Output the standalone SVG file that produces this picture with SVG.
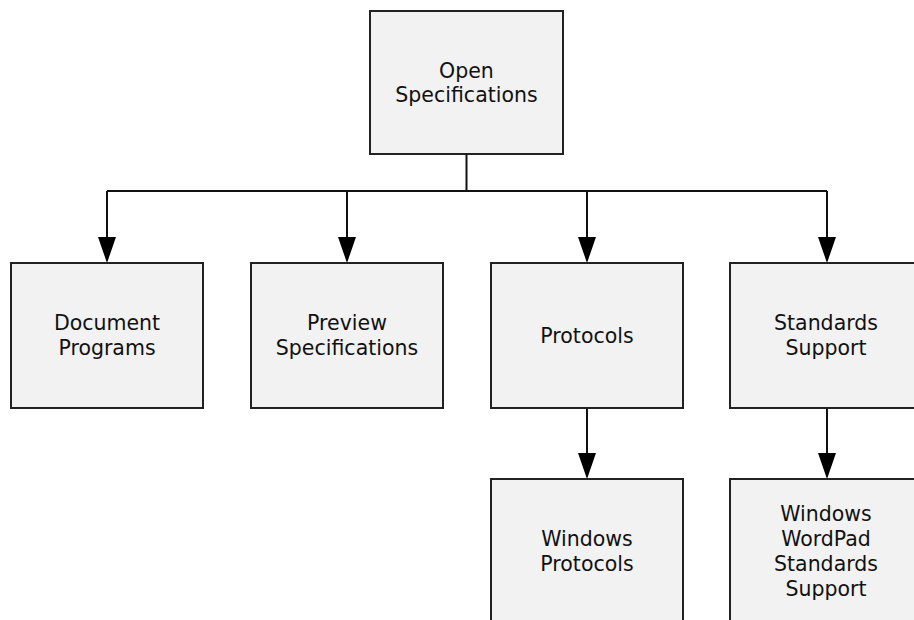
<svg xmlns="http://www.w3.org/2000/svg" width="914" height="620" viewBox="0 0 914 620">
<defs>
<style>
.box{fill:#f2f2f2;stroke:#222;stroke-width:2}
.lbl{font-family:"DejaVu Sans",Verdana,sans-serif;font-size:20.5px;fill:#111;text-anchor:middle}
.con{fill:none;stroke:#111;stroke-width:2}
.ah{fill:#000;stroke:none}
</style>
</defs>
<rect width="914" height="620" fill="#fff"/>
<g id="connectors">
<path class="con" d="M466.5 154 V191 M107 191 H827 M107 191 V240 M347 191 V240 M587 191 V240 M827 191 V240 M587 408 V455 M827 408 V455"/>
<path class="ah" d="M98 237 L116 237 L107 263 Z M338 237 L356 237 L347 263 Z M578 237 L596 237 L587 263 Z M818 237 L836 237 L827 263 Z M578 453 L596 453 L587 479 Z M818 453 L836 453 L827 479 Z"/>
</g>
<g id="open-specifications">
<rect class="box" x="370" y="11" width="193" height="143"/>
<text class="lbl" x="466.5" y="78">Open</text>
<text class="lbl" x="466.5" y="102">Specifications</text>
</g>
<g id="document-programs">
<rect class="box" x="11" y="263" width="192" height="145"/>
<text class="lbl" x="107" y="330">Document</text>
<text class="lbl" x="107" y="355">Programs</text>
</g>
<g id="preview-specifications">
<rect class="box" x="251" y="263" width="192" height="145"/>
<text class="lbl" x="347" y="330">Preview</text>
<text class="lbl" x="347" y="355">Specifications</text>
</g>
<g id="protocols">
<rect class="box" x="491" y="263" width="192" height="145"/>
<text class="lbl" x="587" y="343">Protocols</text>
</g>
<g id="standards-support">
<rect class="box" x="730" y="263" width="192" height="145"/>
<text class="lbl" x="826" y="330">Standards</text>
<text class="lbl" x="826" y="355">Support</text>
</g>
<g id="windows-protocols">
<rect class="box" x="491" y="479" width="192" height="145"/>
<text class="lbl" x="587" y="546">Windows</text>
<text class="lbl" x="587" y="571">Protocols</text>
</g>
<g id="windows-wordpad-standards-support">
<rect class="box" x="730" y="479" width="192" height="145"/>
<text class="lbl" x="826" y="521">Windows</text>
<text class="lbl" x="826" y="546">WordPad</text>
<text class="lbl" x="826" y="571">Standards</text>
<text class="lbl" x="826" y="596">Support</text>
</g>
</svg>
